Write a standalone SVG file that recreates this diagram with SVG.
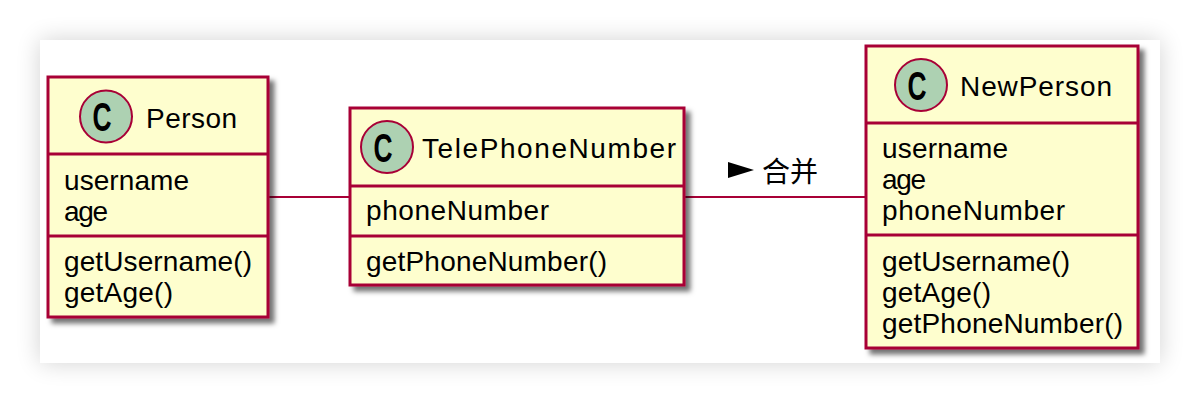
<svg xmlns="http://www.w3.org/2000/svg" width="1200" height="404" viewBox="0 0 1200 404">
<defs>
<filter id="panelShadow" x="-10%" y="-20%" width="120%" height="140%">
<feGaussianBlur in="SourceAlpha" stdDeviation="12"/>
<feComponentTransfer><feFuncA type="linear" slope="0.18"/></feComponentTransfer>
<feMerge><feMergeNode/><feMergeNode in="SourceGraphic"/></feMerge>
</filter>
<filter id="boxShadow" x="-10%" y="-10%" width="130%" height="130%">
<feOffset in="SourceAlpha" dx="5" dy="5" result="o"/>
<feGaussianBlur in="o" stdDeviation="2.5" result="b"/>
<feFlood flood-color="#000" flood-opacity="0.55"/>
<feComposite in2="b" operator="in"/>
<feMerge><feMergeNode/><feMergeNode in="SourceGraphic"/></feMerge>
</filter>
<style>
.box{fill:#FEFECE;stroke:#A80036;stroke-width:3}
.div{stroke:#A80036;stroke-width:3}
.circ{fill:#ADD1B2;stroke:#A80036;stroke-width:2}
.cg{font-family:"Liberation Sans",Arial,sans-serif;font-weight:bold;font-size:40px;fill:#000;text-anchor:middle}
.t{font-family:"Liberation Sans",Arial,sans-serif;font-size:28px;fill:#000}
.lbl{font-family:"Liberation Sans","Noto Sans CJK SC",sans-serif;font-size:28px;fill:#000}
.conn{stroke:#A80036;stroke-width:2;fill:none}
</style>
</defs>
<rect x="0" y="0" width="1200" height="404" fill="#FFFFFF"/>
<rect x="40" y="40" width="1120" height="323" fill="#FFFFFF" filter="url(#panelShadow)"/>

<g id="connectors">
<line class="conn" x1="268" y1="197" x2="350" y2="197"/>
<line class="conn" x1="684" y1="197" x2="866" y2="197"/>
<polygon points="728,162 754,170 728,178" fill="#000"/>
<text class="lbl" x="762" y="182">合并</text>
</g>

<g id="Person">
<rect class="box" x="48" y="77" width="220" height="240" filter="url(#boxShadow)"/>
<line class="div" x1="48" y1="154" x2="268" y2="154"/>
<line class="div" x1="48" y1="236" x2="268" y2="236"/>
<circle class="circ" cx="106" cy="116.5" r="26"/>
<text class="cg" transform="translate(102,131) scale(0.66,1)">C</text>
<text class="t" x="146" y="127.5" textLength="91">Person</text>
<text class="t" x="64" y="190" textLength="125">username</text>
<text class="t" x="64" y="221" textLength="44">age</text>
<text class="t" x="64" y="271" textLength="188">getUsername()</text>
<text class="t" x="64" y="302" textLength="109">getAge()</text>
</g>

<g id="TelePhoneNumber">
<rect class="box" x="350" y="108" width="334" height="177" filter="url(#boxShadow)"/>
<line class="div" x1="350" y1="186" x2="684" y2="186"/>
<line class="div" x1="350" y1="236" x2="684" y2="236"/>
<circle class="circ" cx="387" cy="147" r="26"/>
<text class="cg" transform="translate(383,161.5) scale(0.66,1)">C</text>
<text class="t" x="422" y="157.5" textLength="254">TelePhoneNumber</text>
<text class="t" x="366" y="220" textLength="183">phoneNumber</text>
<text class="t" x="366" y="271" textLength="241">getPhoneNumber()</text>
</g>

<g id="NewPerson">
<rect class="box" x="866" y="46" width="272" height="302" filter="url(#boxShadow)"/>
<line class="div" x1="866" y1="123" x2="1138" y2="123"/>
<line class="div" x1="866" y1="235" x2="1138" y2="235"/>
<circle class="circ" cx="921" cy="85" r="26"/>
<text class="cg" transform="translate(917,99.5) scale(0.66,1)">C</text>
<text class="t" x="960" y="95.5" textLength="152">NewPerson</text>
<text class="t" x="882" y="158" textLength="126">username</text>
<text class="t" x="882" y="189" textLength="44">age</text>
<text class="t" x="882" y="220" textLength="183">phoneNumber</text>
<text class="t" x="882" y="271" textLength="188">getUsername()</text>
<text class="t" x="882" y="302" textLength="109">getAge()</text>
<text class="t" x="882" y="333" textLength="241">getPhoneNumber()</text>
</g>
</svg>
